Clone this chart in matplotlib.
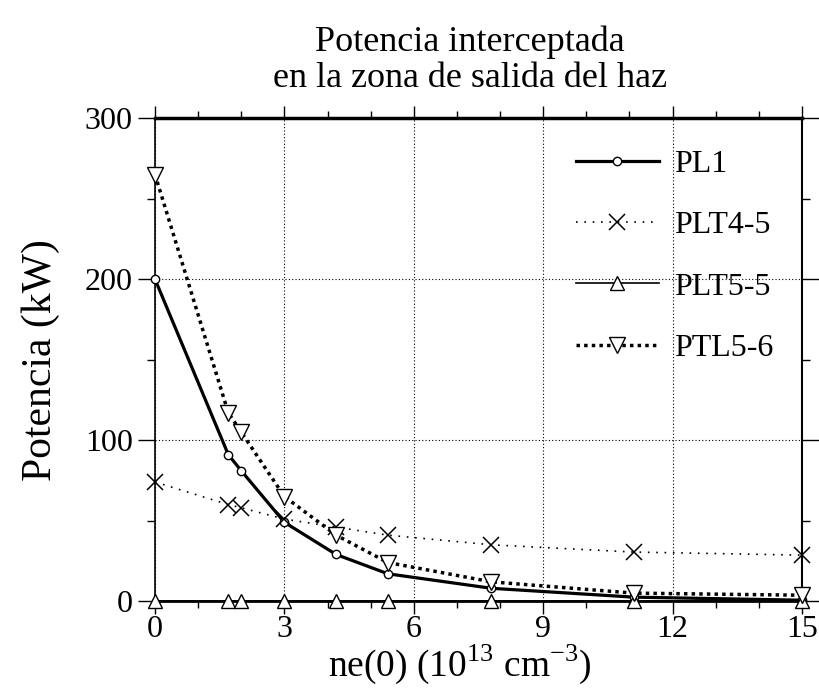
import matplotlib
matplotlib.use('Agg')
import matplotlib.pyplot as plt
from matplotlib.ticker import MultipleLocator

# Densidad central (10^13 cm^-3)
ne0 = [0, 1.7, 2.0, 3.0, 4.2, 5.4, 7.8, 11.1, 15]

# Potencia interceptada (kW) para cada configuracion
pl1 = [200, 91, 81, 49, 29, 17, 8, 2.5, 0.6]
plt4_5 = [74, 60, 58, 51, 46, 41, 35, 30.5, 28.6]
plt5_5 = [0, 0, 0, 0, 0, 0, 0, 0, 0]
ptl5_6 = [265, 117, 105, 65, 41, 24, 12, 5, 3.7]

plt.rcParams['font.family'] = ['Liberation Serif', 'DejaVu Serif']
plt.rcParams['mathtext.fontset'] = 'custom'
plt.rcParams['mathtext.rm'] = 'Liberation Serif'

fig = plt.figure(figsize=(8.2, 6.91), dpi=100)
ax = fig.add_axes([0.189, 0.130, 0.789, 0.699])

ax.plot(ne0, pl1, color='black', lw=2.3, marker='o', ms=6, mfc='white',
        mew=1.0, label='PL1', clip_on=False, zorder=4)
ax.plot(ne0, plt4_5, color='black', lw=1.2, ls=(0, (1, 4)), marker='x',
        ms=11, mew=1.1, label='PLT4-5', clip_on=False, zorder=4)
ax.plot(ne0, plt5_5, color='black', lw=1.2, marker='^', ms=10, mfc='white',
        mew=1.0, label='PLT5-5', clip_on=False, zorder=4)
ax.plot(ne0, ptl5_6, color='black', lw=2.5, ls=(0, (1, 1.2)), marker='v',
        ms=11, mfc='white', mew=1.0, label='PTL5-6', clip_on=False, zorder=4)

ax.set_xlim(0, 15)
ax.set_ylim(0, 300)
ax.xaxis.set_major_locator(MultipleLocator(3))
ax.xaxis.set_minor_locator(MultipleLocator(1))
ax.yaxis.set_major_locator(MultipleLocator(100))
ax.yaxis.set_minor_locator(MultipleLocator(50))

ax.grid(True, which='major', color='black', lw=0.8, ls=(0, (1, 2)))
ax.tick_params(which='major', direction='out', length=12, width=1.0,
               labelsize=23, top=True, right=True, pad=4)
ax.tick_params(which='minor', direction='out', length=6, width=1.0,
               top=True, right=True)
ax.tick_params(axis='x', which='major', length=9, pad=1)
ax.tick_params(axis='x', which='minor', length=5)

ax.spines['top'].set_linewidth(2.5)
ax.spines['bottom'].set_linewidth(2.0)
ax.spines['left'].set_linewidth(1.2)
ax.spines['right'].set_linewidth(1.5)

ax.set_xlabel(r'ne(0) (10$^{13}$ cm$^{-3}$)', fontsize=27)
ax.xaxis.set_label_coords(0.471, -0.085)
ax.set_ylabel('Potencia (kW)', fontsize=30, labelpad=18)
fig.text(0.573, 0.913, 'Potencia interceptada\nen la zona de salida del haz',
         ha='center', va='center', fontsize=26, linespacing=1.1)

leg = ax.legend(loc='upper left', bbox_to_anchor=(0.65, 0.935), frameon=False,
                fontsize=23, handlelength=2.6, handletextpad=0.5,
                labelspacing=1.0, borderaxespad=0, borderpad=0, numpoints=1)

fig.savefig('out.png', dpi=100)
